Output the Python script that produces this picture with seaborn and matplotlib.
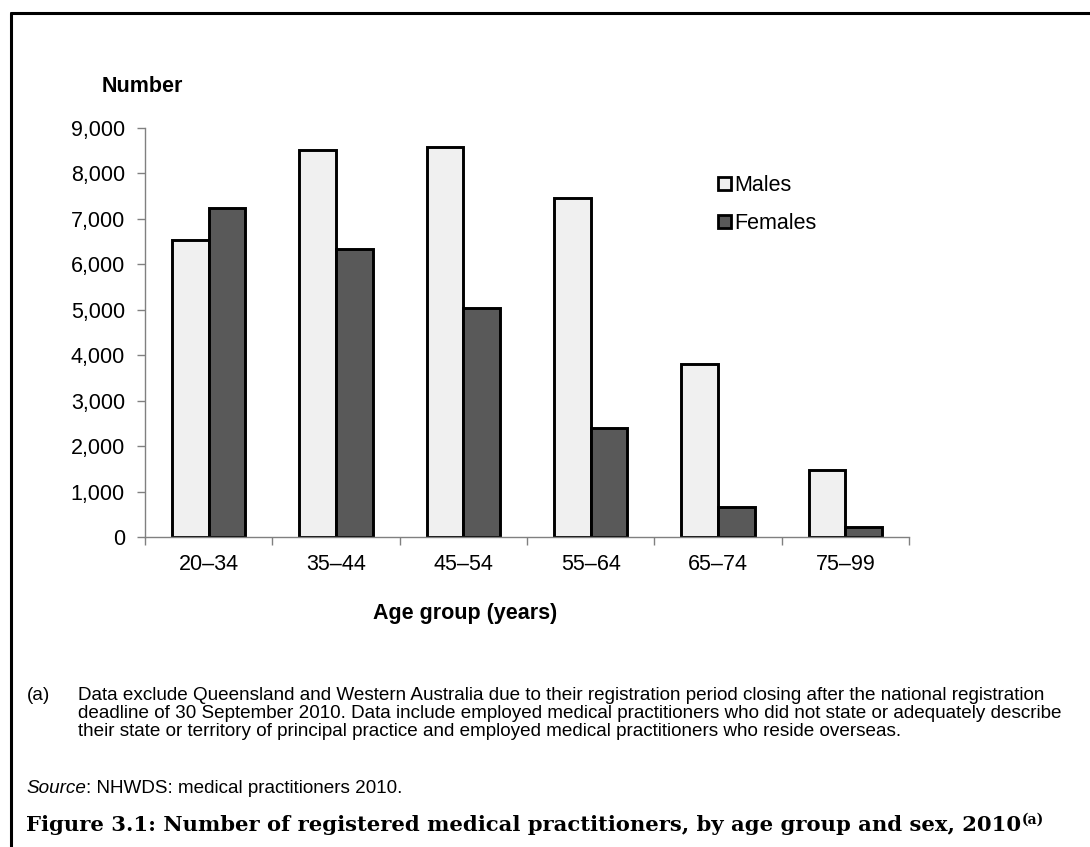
import numpy as np
import pandas as pd
import seaborn as sns
import matplotlib.pyplot as plt
from matplotlib.lines import Line2D
from matplotlib.ticker import FuncFormatter, MultipleLocator, FixedLocator

# data
age_groups = ['20\u201334', '35\u201344', '45\u201354', '55\u201364', '65\u201374', '75\u201399']
males = [6540, 8520, 8590, 7450, 3810, 1480]
females = [7240, 6340, 5040, 2400, 670, 210]

df = pd.DataFrame({
    'age': age_groups * 2,
    'sex': ['Males'] * len(age_groups) + ['Females'] * len(age_groups),
    'n': males + females,
})

sns.set_style('white')
plt.rcParams['font.family'] = ['Liberation Sans', 'DejaVu Sans']
plt.rcParams['text.color'] = 'black'
plt.rcParams['xtick.labelcolor'] = 'black'
plt.rcParams['ytick.labelcolor'] = 'black'

W, H = 1090, 847
fig = plt.figure(figsize=(W / 100, H / 100), dpi=100)
ax = fig.add_axes([145 / W, 1 - 537 / H, (909 - 145) / W, (537 - 128) / H])

sns.barplot(data=df, x='age', y='n', hue='sex', order=age_groups,
            hue_order=['Males', 'Females'],
            palette={'Males': '#f0f0f0', 'Females': '#595959'},
            width=0.575, gap=0, edgecolor='black', linewidth=2.1,
            saturation=1, errorbar=None, ax=ax)

ax.set_xlim(-0.5, len(age_groups) - 0.5)
ax.set_ylim(0, 9000)
ax.yaxis.set_major_locator(MultipleLocator(1000))
ax.yaxis.set_major_formatter(FuncFormatter(lambda v, p: f'{int(v):,}'))
ax.set_xlabel('')
ax.set_ylabel('')

for s in ['top', 'right']:
    ax.spines[s].set_visible(False)
for s in ['left', 'bottom']:
    ax.spines[s].set_color('#808080')
    ax.spines[s].set_linewidth(1.0)

ax.tick_params(axis='y', which='major', direction='out', length=6, width=1,
               color='#808080', labelsize=15.5, pad=8.5, left=True)
ax.tick_params(axis='x', which='major', length=0, labelsize=15.5, pad=12)
ax.xaxis.set_minor_locator(FixedLocator(np.arange(-0.5, len(age_groups), 1.0)))
ax.tick_params(axis='x', which='minor', direction='out', length=6, width=1,
               color='#808080', bottom=True)

leg = ax.legend(loc='upper left', bbox_to_anchor=((718 - 145) / (909 - 145), (537 - 175) / (537 - 128)),
                frameon=False, fontsize=15.5, handlelength=0.6, handleheight=0.6,
                handletextpad=0.15, labelspacing=0.8, borderaxespad=0, borderpad=0)
for h in leg.legend_handles:
    h.set_linewidth(2.0)

fx = lambda x: x / W
fy = lambda y: 1 - y / H

fig.text(fx(102), fy(87), 'Number', fontsize=15.5, fontweight='bold', va='center', ha='left')
fig.text(fx(465), fy(614), 'Age group (years)', fontsize=15.5, fontweight='bold', va='center', ha='center')

note_lines = [
    'Data exclude Queensland and Western Australia due to their registration period closing after the national registration',
    'deadline of 30 September 2010. Data include employed medical practitioners who did not state or adequately describe',
    'their state or territory of principal practice and employed medical practitioners who reside overseas.',
]
note_y = [695, 713.5, 732]
fig.text(fx(27), fy(note_y[0]), '(a)', fontsize=13.6, va='center', ha='left')
for line, y in zip(note_lines, note_y):
    fig.text(fx(78), fy(y), line, fontsize=13.6, va='center', ha='left')

src = fig.text(fx(26), fy(788), 'Source', fontsize=13.6, style='italic', va='center', ha='left')
cap = fig.text(fx(26), fy(825),
               'Figure 3.1: Number of registered medical practitioners, by age group and sex, 2010',
               fontsize=15.2, fontweight='bold', family=['DejaVu Serif'], va='center', ha='left')

fig.canvas.draw()
r = fig.canvas.get_renderer()
bb = src.get_window_extent(r)
fig.text(bb.x1 / W, fy(788), ': NHWDS: medical practitioners 2010.', fontsize=13.6, va='center', ha='left')
bb = cap.get_window_extent(r)
fig.text(bb.x1 / W + 0.001, fy(820), '(a)', fontsize=10, fontweight='bold', family=['DejaVu Serif'],
         va='center', ha='left')

# outer frame: left and top edges only
fig.add_artist(Line2D([fx(11), fx(11)], [0, fy(13)], transform=fig.transFigure, color='black', lw=2.2))
fig.add_artist(Line2D([fx(11), 1], [fy(13), fy(13)], transform=fig.transFigure, color='black', lw=2.2))

fig.savefig('out.png', dpi=100)
